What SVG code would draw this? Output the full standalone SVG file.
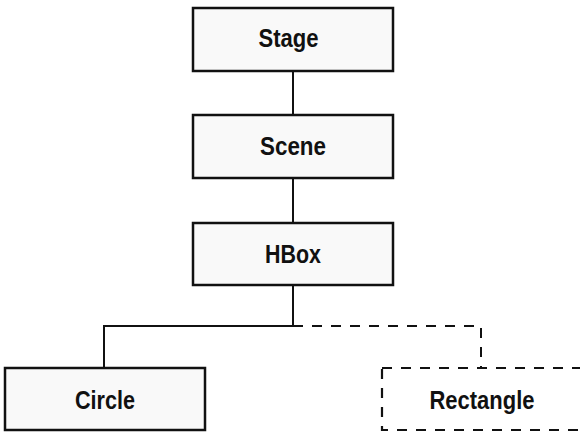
<svg xmlns="http://www.w3.org/2000/svg" width="580" height="432" viewBox="0 0 580 432">
<style>
.box{fill:#f9f9f9;stroke:#111;stroke-width:2.5}
.dbox{fill:#fff;stroke:#111;stroke-width:2.2;stroke-dasharray:10 9}
.ln{fill:none;stroke:#111;stroke-width:2}
.dl{fill:none;stroke:#111;stroke-width:2;stroke-dasharray:10 9}
.t{font-family:"Liberation Sans",Arial,sans-serif;font-weight:bold;font-size:26px;fill:#111;text-anchor:middle}
</style>
<rect width="580" height="432" fill="#fff"/>
<g id="connectors">
<line class="ln" x1="293" y1="71" x2="293" y2="115"/>
<line class="ln" x1="293" y1="178" x2="293" y2="223"/>
<polyline class="ln" points="293,285 293,326 104,326 104,368"/>
<polyline class="dl" points="293,326 481,326 481,368"/>
</g>
<g id="stage">
<rect class="box" x="193" y="8" width="200" height="63"/>
<text class="t" x="288.5" y="47" textLength="60" lengthAdjust="spacingAndGlyphs">Stage</text>
</g>
<g id="scene">
<rect class="box" x="193" y="115" width="200" height="63"/>
<text class="t" x="293" y="155" textLength="66" lengthAdjust="spacingAndGlyphs">Scene</text>
</g>
<g id="hbox">
<rect class="box" x="193" y="223" width="200" height="62"/>
<text class="t" x="293" y="263" textLength="56" lengthAdjust="spacingAndGlyphs">HBox</text>
</g>
<g id="circle">
<rect class="box" x="5" y="368" width="200" height="62"/>
<text class="t" x="105" y="409" textLength="60" lengthAdjust="spacingAndGlyphs">Circle</text>
</g>
<g id="rectangle">
<rect class="dbox" x="382" y="368" width="200" height="62"/>
<text class="t" x="482" y="409" textLength="105" lengthAdjust="spacingAndGlyphs">Rectangle</text>
</g>
</svg>
